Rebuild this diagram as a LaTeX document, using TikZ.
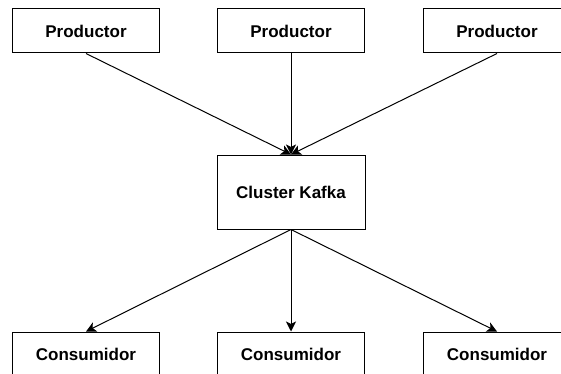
\documentclass[tikz,border=0pt]{standalone}
\usepackage{fontspec}
\setmainfont{Liberation Sans}
\usetikzlibrary{arrows.meta}

\begin{document}
\begin{tikzpicture}[x=1pt, y=1pt]
  \tikzset{
    box/.style={
      draw, line width=1pt, minimum width=147pt, minimum height=44pt,
      inner sep=0pt, font=\fontsize{17}{20}\selectfont\bfseries
    },
    kbox/.style={
      box, minimum width=148pt, minimum height=74pt
    },
    link/.style={
      line width=1pt, -{Stealth[length=10pt, width=10pt, inset=2.5pt]}
    }
  }
  \useasboundingbox (0,0) rectangle (561,373);

  \node [kbox] (k) at (291, 181) {Cluster Kafka};

  \foreach \i/\x in {1/86, 2/291, 3/497} {
    \node [box] (p\i) at (\x, 342) {Productor};
    \node [box] (c\i) at (\x, 19) {Consumidor};
  }

  % arrows into and out of the cluster
  \foreach \i in {1, 2, 3} {
    \path (p\i.south) edge [link] (k.north);
    \path (k.south) edge [link] (c\i.north);
  }
\end{tikzpicture}
\end{document}
